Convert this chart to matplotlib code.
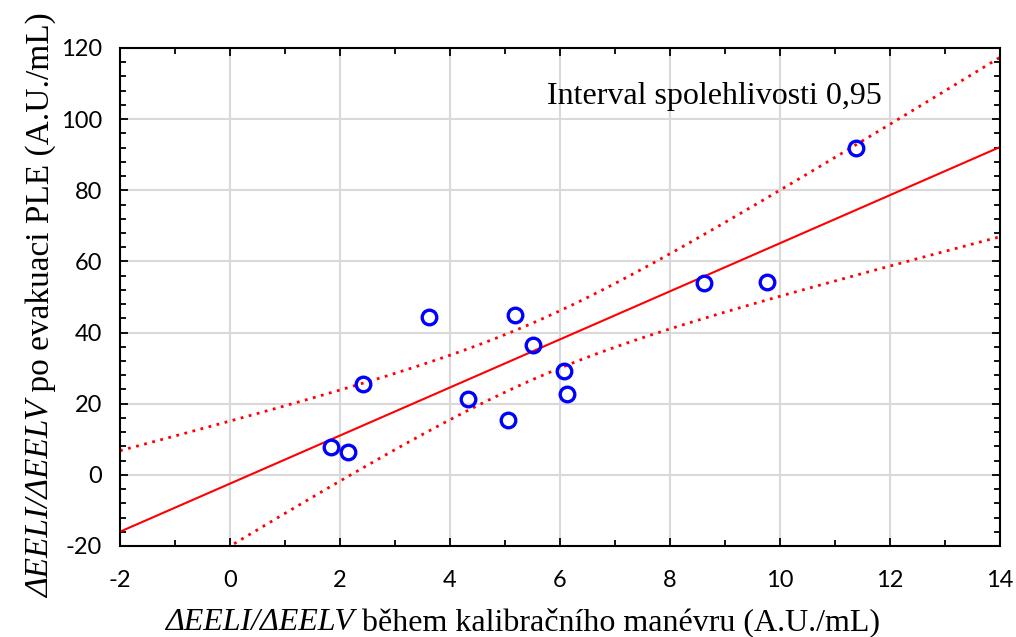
import numpy as np
import matplotlib
matplotlib.use("Agg")
import matplotlib.pyplot as plt
from matplotlib.ticker import MultipleLocator

# Data
x_vals = [1.84, 2.15, 2.42, 3.62, 4.33, 5.05, 5.18, 5.51, 6.07, 6.13, 8.62, 9.76, 11.38]
y_vals = [7.9, 6.5, 25.6, 44.4, 21.4, 15.5, 45.0, 36.5, 29.2, 22.8, 54.0, 54.3, 91.9]
x_ticks = [-2, 0, 2, 4, 6, 8, 10, 12, 14]
y_ticks = [-20, 0, 20, 40, 60, 80, 100, 120]
t_crit = 2.201  # t(0.975, n-2=11)

xlabel_it = 'ΔEELI/ΔEELV'
xlabel_rm = ' během kalibračního manévru (A.U./mL)'
ylabel_it = 'ΔEELI/ΔEELV'
ylabel_rm = ' po evakuaci PLE (A.U./mL)'
annot = 'Interval spolehlivosti 0,95'

plt.rcParams['axes.unicode_minus'] = False

W, H = 1016, 637
fig = plt.figure(figsize=(W/100, H/100), dpi=100)
ax = fig.add_axes([120/W, 1-546/H, 880/W, 498/H])

x = np.array(x_vals)
y = np.array(y_vals)
n = len(x)
b, a = np.polyfit(x, y, 1)
xs = np.linspace(-2, 14, 300)
yfit = a + b*xs
resid = y - (a + b*x)
s = np.sqrt(np.sum(resid**2)/(n-2))
se = s*np.sqrt(1/n + (xs - x.mean())**2/np.sum((x - x.mean())**2))

ax.grid(True, which='major', color='#d9d9d9', linewidth=1.5, zorder=0)
ax.plot(xs, yfit, color='#ff0000', linewidth=1.5, zorder=2)
ax.plot(xs, yfit + t_crit*se, color='#ff0000', linewidth=2, linestyle=(0, (1, 2)), zorder=2)
ax.plot(xs, yfit - t_crit*se, color='#ff0000', linewidth=2, linestyle=(0, (1, 2)), zorder=2)
ax.plot(x, y, linestyle='none', marker='o', markersize=10.5, markerfacecolor='none',
        markeredgecolor='#0000ff', markeredgewidth=2.4, zorder=3)

ax.set_xlim(-2, 14)
ax.set_ylim(-20, 120)
ax.set_xticks(x_ticks)
ax.set_yticks(y_ticks)
ax.xaxis.set_minor_locator(MultipleLocator(1))
ax.yaxis.set_minor_locator(MultipleLocator(4))
ax.tick_params(which='both', direction='in', top=True, right=True, width=1.3, colors='black')
ax.tick_params(which='major', length=6)
ax.tick_params(which='minor', length=4)
ax.tick_params(axis='x', which='major', pad=17)
ax.tick_params(axis='y', which='major', pad=13)
for lbl in ax.get_xticklabels() + ax.get_yticklabels():
    lbl.set_fontfamily('Lato')
    lbl.set_fontsize(17)
for sp in ax.spines.values():
    sp.set_linewidth(1.5)

ax.text(8.8, 106.3, annot, fontfamily='Liberation Serif',
        fontsize=23, ha='center', va='center')

# Mixed italic / regular axis labels
fig.canvas.draw()
renderer = fig.canvas.get_renderer()

def text_width(s, style, fs):
    t = fig.text(0, 0, s, fontfamily='Liberation Serif', fontsize=fs, fontstyle=style)
    w = t.get_window_extent(renderer).width
    t.remove()
    return w

xfs = 23
wx1 = text_width(xlabel_it, 'italic', xfs)
x0_px, base_px = 165, H - 630
fig.text(x0_px/W, base_px/H, xlabel_it, fontfamily='Liberation Serif', fontsize=xfs,
         fontstyle='italic', ha='left', va='baseline')
fig.text((x0_px + wx1)/W, base_px/H, xlabel_rm, fontfamily='Liberation Serif', fontsize=xfs,
         ha='left', va='baseline')

yfs = 24
wy1 = text_width(ylabel_it, 'italic', yfs)
yx_px, y0_px = 49, H - 598
fig.text(yx_px/W, y0_px/H, ylabel_it, fontfamily='Liberation Serif', fontsize=yfs,
         fontstyle='italic', ha='left', va='baseline', rotation=90, rotation_mode='anchor')
fig.text(yx_px/W, (y0_px + wy1)/H, ylabel_rm, fontfamily='Liberation Serif', fontsize=yfs,
         ha='left', va='baseline', rotation=90, rotation_mode='anchor')

fig.savefig('out.png', dpi=100)
